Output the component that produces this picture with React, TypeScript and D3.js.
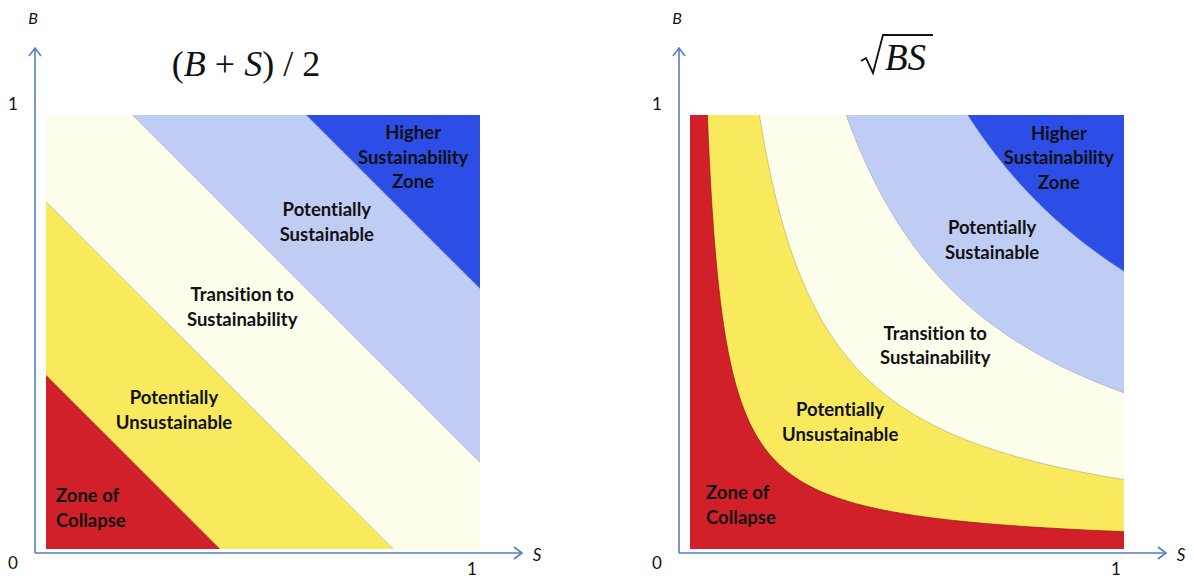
import React from "react";
import * as d3 from "d3";

// ---- data ----
const levels = [0.2, 0.4, 0.6, 0.8]; // zone thresholds of the sustainability index
const zoneNames = [
  ["Zone of", "Collapse"],
  ["Potentially", "Unsustainable"],
  ["Transition to", "Sustainability"],
  ["Potentially", "Sustainable"],
  ["Higher", "Sustainability", "Zone"],
];
const axisTicks = ["0", "1"];
const axisNames = ["S", "B"];

// ---- styles / layout ----
const zoneColors = ["#d2202a", "#f8ea5c", "#fdfdec", "#bfcdf5", "#2c4de6"];
const boundaryColors = ["#7a1010", "#a8a878", "#9aa3bb", "#6f86d6"];
const axisColor = "#4f81bd";
const labelFont = "Lato, 'Open Sans', sans-serif";
const serif = "'Liberation Serif', 'DejaVu Serif', serif";

// label anchor positions (data units) for each panel
const labelPosLeft = [
  { s: 0.023, b: 0.094, anchor: "start" },
  { s: 0.295, b: 0.32, anchor: "middle" },
  { s: 0.452, b: 0.558, anchor: "middle" },
  { s: 0.647, b: 0.753, anchor: "middle" },
  { s: 0.846, b: 0.903, anchor: "middle" },
];
const labelPosRight = [
  { s: 0.037, b: 0.101, anchor: "start" },
  { s: 0.346, b: 0.293, anchor: "middle" },
  { s: 0.565, b: 0.469, anchor: "middle" },
  { s: 0.696, b: 0.712, anchor: "middle" },
  { s: 0.85, b: 0.901, anchor: "middle" },
];

type PanelProps = {
  x0: number;
  kind: "mean" | "geo";
  labelPos: { s: number; b: number; anchor: string }[];
  id: string;
};

function Panel({ x0, kind, labelPos, id }: PanelProps) {
  const size = 434;
  const top = 115;
  const bottom = top + size;
  const sx = d3.scaleLinear().domain([0, 1]).range([x0, x0 + size]);
  const sy = d3.scaleLinear().domain([0, 1]).range([bottom, top]);
  const axX = x0 - 11;
  const axY = bottom + 4;
  const line = d3
    .line<[number, number]>()
    .x((d) => sx(d[0]))
    .y((d) => sy(d[1]));

  const curvePts = (c: number): [number, number][] => {
    const c2 = c * c;
    const n = 200;
    return d3.range(n + 1).map((i) => {
      const s = c2 * Math.pow(1 / c2, i / n);
      return [s, c2 / s] as [number, number];
    });
  };

  // region where index >= level
  const regionPath = (c: number) => {
    if (kind === "mean") {
      const k = 2 * c;
      return line([[-1, k + 1], [k + 1, -1], [3, 3]]) + "Z";
    }
    return line([...curvePts(c), [1, 1]]) + "Z";
  };
  const boundaryPath = (c: number) => {
    if (kind === "mean") {
      const k = 2 * c;
      return line([[-1, k + 1], [k + 1, -1]]);
    }
    return line(curvePts(c));
  };

  const clipId = `clip-${id}`;
  return (
    <g>
      <defs>
        <clipPath id={clipId}>
          <rect x={sx(0)} y={sy(1)} width={size} height={size} />
        </clipPath>
      </defs>
      <g clipPath={`url(#${clipId})`}>
        <rect x={sx(0)} y={sy(1)} width={size} height={size} fill={zoneColors[0]} />
        {levels.map((c, i) => (
          <path key={"r" + i} d={regionPath(c) || ""} fill={zoneColors[i + 1]} />
        ))}
        {levels.map((c, i) => (
          <path
            key={"b" + i}
            d={boundaryPath(c) || ""}
            fill="none"
            stroke={boundaryColors[i]}
            strokeWidth={1}
            strokeOpacity={0.6}
          />
        ))}
      </g>
      {zoneNames.map((lines, i) => {
        const p = labelPos[i];
        const cx = sx(p.s);
        const cy = sy(p.b);
        const lh = 24.5;
        const startY = cy - ((lines.length - 1) * lh) / 2;
        return (
          <text
            key={"t" + i}
            x={cx}
            textAnchor={p.anchor as any}
            fontFamily={labelFont}
            fontWeight={700}
            fontSize={18.5}
            fill="#111"
            style={{ fontVariantLigatures: "none" }}
          >
            {lines.map((l, j) => (
              <tspan key={j} x={cx} y={startY + j * lh} dy="0.35em">
                {l}
              </tspan>
            ))}
          </text>
        );
      })}
      {/* axes */}
      <line x1={axX} y1={axY} x2={axX} y2={48} stroke={axisColor} strokeWidth={1.6} />
      <polyline
        points={`${axX - 6},${56} ${axX},${48} ${axX + 6},${56}`}
        fill="none"
        stroke={axisColor}
        strokeWidth={1.6}
      />
      <line x1={axX} y1={axY} x2={x0 + size + 42} y2={axY} stroke={axisColor} strokeWidth={1.6} />
      <polyline
        points={`${x0 + size + 34},${axY - 6} ${x0 + size + 42},${axY} ${x0 + size + 34},${axY + 6}`}
        fill="none"
        stroke={axisColor}
        strokeWidth={1.6}
      />
      <text x={axX - 2} y={18} dy="0.35em" textAnchor="middle" fontFamily={labelFont} fontStyle="italic" fontSize={16} fill="#111">
        {axisNames[1]}
      </text>
      <text x={x0 + size + 57} y={axY + 2} dy="0.35em" textAnchor="middle" fontFamily={labelFont} fontStyle="italic" fontSize={17} fill="#111">
        {axisNames[0]}
      </text>
      <text x={axX - 22} y={sy(0) + 14} dy="0.35em" textAnchor="middle" fontFamily={labelFont} fontSize={17} fill="#111">
        {axisTicks[0]}
      </text>
      <text x={axX - 22} y={sy(1) - 11} dy="0.35em" textAnchor="middle" fontFamily={labelFont} fontSize={17} fill="#111">
        {axisTicks[1]}
      </text>
      <text x={sx(1) - 8} y={sy(0) + 20} dy="0.35em" textAnchor="middle" fontFamily={labelFont} fontSize={17} fill="#111">
        {axisTicks[1]}
      </text>
    </g>
  );
}

export default function App() {
  return (
    <svg
      width={1194}
      height={579}
      style={{ position: "absolute", left: 0, top: 0, background: "#fff" }}
    >
      <rect width={1194} height={579} fill="#fff" />
      <Panel x0={46} kind="mean" labelPos={labelPosLeft} id="l" />
      <Panel x0={690} kind="geo" labelPos={labelPosRight} id="r" />
      {/* titles */}
      <text x={246} y={76} textAnchor="middle" fontFamily={serif} fontSize={36} fill="#111">
        (<tspan fontStyle="italic">B</tspan>
        {" + "}
        <tspan fontStyle="italic">S</tspan>){" / 2"}
      </text>
      <path
        d="M861,61 L866,58 L873,73 L883,35 L933,35"
        fill="none"
        stroke="#111"
        strokeWidth={1.8}
        strokeLinejoin="miter"
      />
      <text x={885} y={70} fontFamily={serif} fontStyle="italic" fontSize={37} fill="#111">
        BS
      </text>
    </svg>
  );
}
